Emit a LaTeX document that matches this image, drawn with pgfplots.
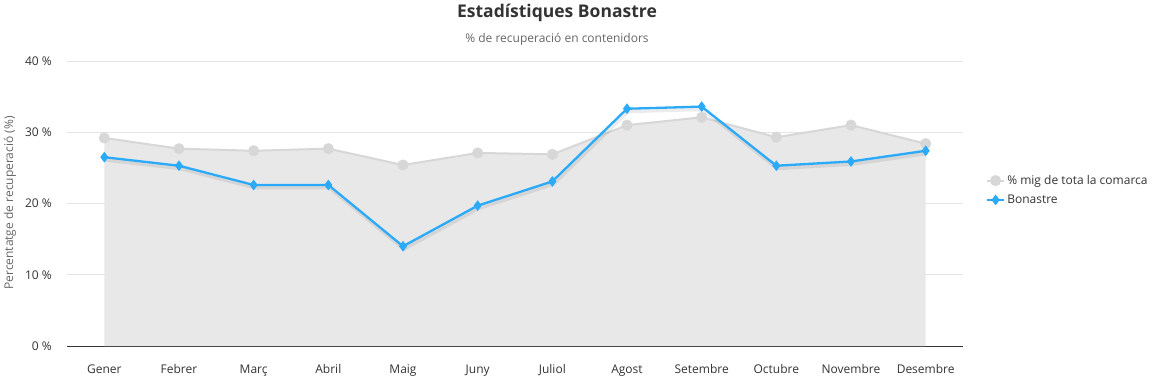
\documentclass[border=0pt]{standalone}
\usepackage{fontspec}
\setmainfont{Open Sans}
\usepackage{pgfplots}
\pgfplotsset{compat=1.18}
\definecolor{blueline}{RGB}{44,170,250}
\definecolor{grayline}{RGB}{215,215,215}
\definecolor{grayfill}{RGB}{232,232,232}
\definecolor{gridgray}{RGB}{228,228,228}
\definecolor{textdark}{RGB}{51,51,51}
\definecolor{textgray}{RGB}{102,102,102}
\pgfplotstableread{
x avg bon
0 29.2 26.5
1 27.7 25.3
2 27.4 22.6
3 27.7 22.6
4 25.4 14.0
5 27.1 19.7
6 26.9 23.1
7 31.0 33.3
8 32.1 33.6
9 29.3 25.3
10 31.0 25.9
11 28.4 27.4
}\data
\begin{document}
\begin{tikzpicture}[x=1pt,y=1pt]
\useasboundingbox (0,0) rectangle (1157,378);
\node[font=\bfseries\fontsize{17.5}{21}\selectfont, text=textdark] at (557,365) {Estadístiques Bonastre};
\node[font=\fontsize{12}{14}\selectfont, text=textgray] at (557,339) {\% de recuperació en contenidors};
\node[font=\fontsize{12}{14}\selectfont, text=textgray, rotate=90] at (10,175) {Percentatge de recuperació (\%)};
\begin{axis}[
  at={(67pt,32pt)}, anchor=south west,
  scale only axis, width=896pt, height=285pt,
  xmin=-0.5, xmax=11.5, ymin=0, ymax=40,
  xtick={0,...,11},
  xticklabels={Gener,Febrer,Març,Abril,Maig,Juny,Juliol,Agost,Setembre,Octubre,Novembre,Desembre},
  ytick={0,10,20,30,40},
  yticklabels={0 \%,10 \%,20 \%,30 \%,40 \%},
  ticklabel style={font=\fontsize{12}{14}\selectfont, text=textdark},
  yticklabel style={inner sep=0pt, xshift=-15pt},
  xticklabel style={inner sep=0pt, anchor=base, yshift=-27pt},
  major tick length=0pt,
  ymajorgrids, major grid style={draw=gridgray, line width=0.8pt},
  axis x line*=bottom, axis y line*=left,
  x axis line style={draw=textdark, line width=0.9pt, -},
  y axis line style={draw=none},
  clip=false,
  legend style={at={(1.022,0.547)}, anchor=west, draw=none, fill=none,
    font=\fontsize{12}{14}\selectfont, text=textdark, row sep=5pt},
  legend cell align=left,
]
\addplot[draw=none, fill=grayfill, forget plot] table[x=x,y=avg] {\data} \closedcycle;
\addplot[grayline, line width=2pt, mark=*, mark size=4.5pt, mark options={fill=grayline, draw=none}] table[x=x,y=avg] {\data};
\addlegendentry{\% mig de tota la comarca}
\addplot[black, opacity=0.08, line width=4pt, xshift=1pt, yshift=-2.5pt, forget plot] table[x=x,y=bon] {\data};
\addplot[blueline, line width=2.3pt, mark=diamond*, mark size=3.5pt, mark options={fill=blueline, draw=none}] table[x=x,y=bon] {\data};
\addlegendentry{Bonastre}
\end{axis}
\end{tikzpicture}
\end{document}
